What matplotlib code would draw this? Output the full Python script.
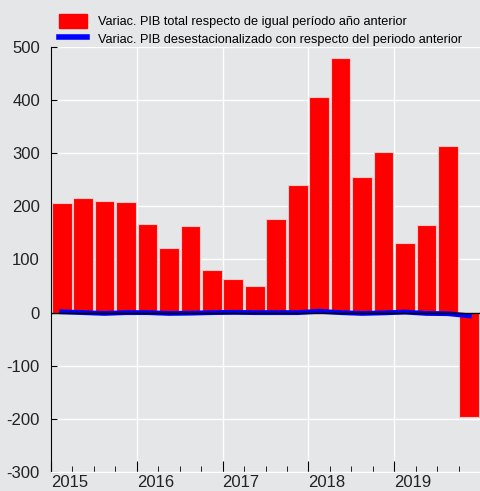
import matplotlib
matplotlib.use("Agg")
import matplotlib.pyplot as plt
import matplotlib.transforms as mtransforms
from matplotlib.patches import Patch
from matplotlib.lines import Line2D
import numpy as np

plt.rcParams['font.family'] = ['Liberation Sans', 'DejaVu Sans']
plt.rcParams['axes.unicode_minus'] = False

years = ["2015", "2016", "2017", "2018", "2019"]
quarters = ["I", "II", "III", "IV"]
pib_total = [206, 216, 211, 209, 167, 121, 163, 80, 64, 50, 177, 241,
             406, 480, 256, 302, 131, 165, 313, -197]
pib_desest = [1.5, 0, -1.5, 0, 0, -1.5, -1, 0, 0.5, 0, 0, 0,
              2.5, 0, -1.5, -0.5, 1, -1.5, -2, -6]
label_total = "Variac. PIB total respecto de igual período año anterior"
label_desest = "Variac. PIB desestacionalizado con respecto del periodo anterior"

bg = '#e5e6e8'
fig = plt.figure(figsize=(4.8, 4.91), dpi=100, facecolor=bg)
ax = fig.add_axes([0.10625, 0.0387, 0.89375, 0.8656], facecolor=bg)

x = np.arange(len(pib_total))
ax.bar(x, pib_total, width=0.92, color='#ff0000', edgecolor='#f4c8c8',
       linewidth=0.8, zorder=2)
ax.plot(x, pib_desest, color='#0000ff', linewidth=3.5, zorder=3)
ax.axhline(0, color='black', linewidth=1.0, zorder=4)

ax.set_xlim(-0.5, len(pib_total) - 0.5)
ax.set_ylim(-300, 500)
ax.set_yticks(np.arange(-300, 501, 100))

major = np.arange(len(years)) * 4 - 0.5
minor = np.arange(len(pib_total)) - 0.5
ax.set_xticks(major)
ax.set_xticklabels(years, ha='left')
ax.set_xticks(minor, minor=True)

offset = mtransforms.ScaledTranslation(-3 / 100, 0, fig.dpi_scale_trans)
for lbl in ax.get_xticklabels():
    lbl.set_transform(lbl.get_transform() + offset)

ax.grid(True, which='major', color='white', linewidth=1.0, zorder=0)
ax.set_axisbelow(True)

for s in ['top', 'right']:
    ax.spines[s].set_visible(False)
ax.spines['bottom'].set_color('white')
ax.spines['left'].set_color('black')

ax.tick_params(axis='y', direction='in', length=4, labelsize=12, pad=8,
               colors='black', labelcolor='#222222')
ax.tick_params(axis='x', which='major', direction='in', length=8,
               labelsize=12, pad=2, color='black', labelcolor='#222222')
ax.tick_params(axis='x', which='minor', direction='in', length=4, color='black')

handles = [Patch(facecolor='#ff0000', edgecolor='#ff0000'),
           Line2D([0], [0], color='#0000ff', linewidth=4)]
fig.legend(handles, [label_total, label_desest], loc='upper left',
           bbox_to_anchor=(0.105, 0.99), frameon=False, fontsize=9.2,
           handlelength=2.2, handleheight=1.3, handletextpad=0.8,
           labelspacing=0.25, borderaxespad=0.3)

fig.savefig("out.png", dpi=100, facecolor=bg)
